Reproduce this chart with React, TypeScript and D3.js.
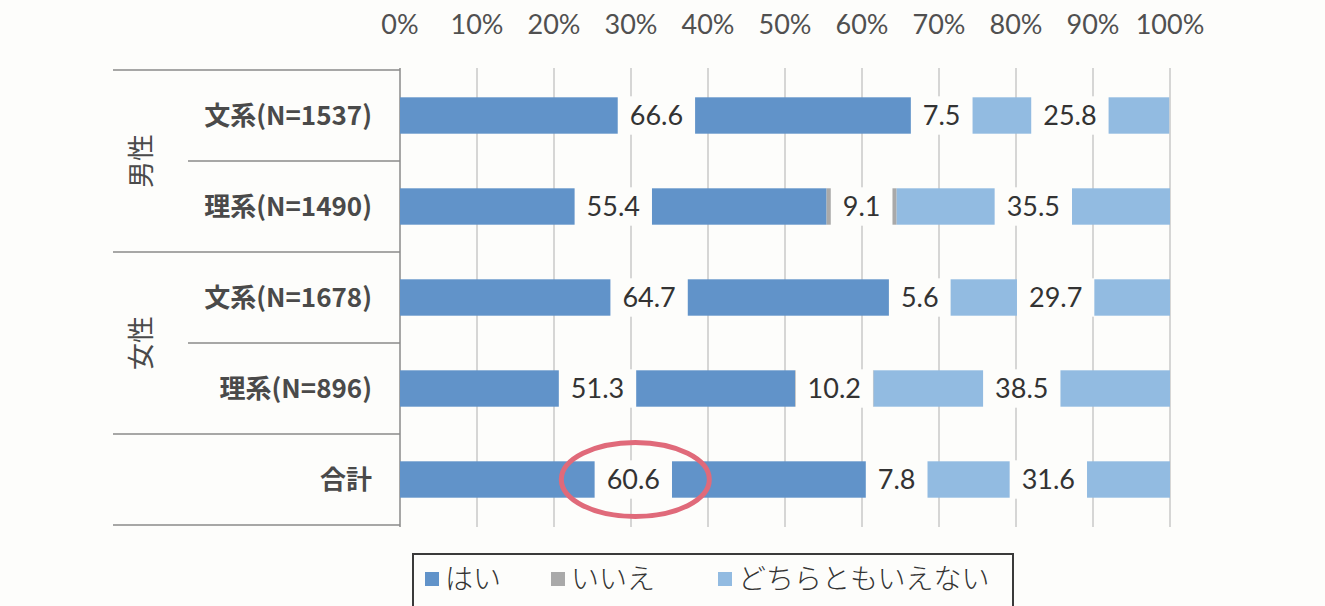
import React, { useEffect, useRef } from "react";
import * as d3 from "d3";

const categories = ["文系(N=1537)", "理系(N=1490)", "文系(N=1678)", "理系(N=896)", "合計"];
const groups = [
  { name: "男性", from: 0, to: 1 },
  { name: "女性", from: 2, to: 3 },
];
const seriesNames = ["はい", "いいえ", "どちらともいえない"];
const yesValues = [66.6, 55.4, 64.7, 51.3, 60.6];
const noValues = [7.5, 9.1, 5.6, 10.2, 7.8];
const neitherValues = [25.8, 35.5, 29.7, 38.5, 31.6];
const tickValues = [0, 10, 20, 30, 40, 50, 60, 70, 80, 90, 100];
const colors = ["#6193c9", "#a9a9a9", "#92bbe1"];
const highlightIndex = 4;

const W = 1325;
const H = 606;

export default function App() {
  const ref = useRef<SVGSVGElement>(null);

  useEffect(() => {
    const svg = d3.select(ref.current);
    svg.selectAll("*").remove();

    const x = d3.scaleLinear().domain([0, 100]).range([400, 1170]);
    const y = d3.scaleBand<number>().domain(d3.range(categories.length)).range([70, 525]).paddingInner(0.6).paddingOuter(0.3);
    const bandStep = (525 - 70) / categories.length;

    svg.append("rect").attr("width", W).attr("height", H).attr("fill", "#fdfdfb");

    // gridlines
    svg
      .append("g")
      .selectAll("line")
      .data(tickValues.slice(1))
      .join("line")
      .attr("x1", (d) => x(d))
      .attr("x2", (d) => x(d))
      .attr("y1", 68)
      .attr("y2", 527)
      .attr("stroke", "#c8c8c8")
      .attr("stroke-width", 1.5);

    // tick labels
    svg
      .append("g")
      .selectAll("text")
      .data(tickValues)
      .join("text")
      .attr("x", (d) => x(d))
      .attr("y", 34)
      .attr("text-anchor", "middle")
      .attr("font-family", "Lato, 'Open Sans', sans-serif")
      .attr("font-size", 27)
      .attr("fill", "#505050")
      .text((d) => `${d}%`);

    // axis line
    svg
      .append("line")
      .attr("x1", x(0))
      .attr("x2", x(0))
      .attr("y1", 68)
      .attr("y2", 527)
      .attr("stroke", "#8a8a8a")
      .attr("stroke-width", 1.5);

    // separators
    const boundaries = d3.range(categories.length + 1);
    const groupBoundaries = new Set([0, 2, 4, 5]);
    svg
      .append("g")
      .selectAll("line")
      .data(boundaries)
      .join("line")
      .attr("x1", (i) => (groupBoundaries.has(i) ? 113 : 188))
      .attr("x2", x(0))
      .attr("y1", (i) => 70 + i * bandStep)
      .attr("y2", (i) => 70 + i * bandStep)
      .attr("stroke", "#8a8a8a")
      .attr("stroke-width", 1.5);

    // category labels
    svg
      .append("g")
      .selectAll("text")
      .data(categories)
      .join("text")
      .attr("x", 372)
      .attr("y", (_, i) => (y(i) as number) + y.bandwidth() / 2)
      .attr("dy", "0.36em")
      .attr("text-anchor", "end")
      .attr("font-family", "'Noto Sans CJK JP', sans-serif")
      .attr("font-weight", 700)
      .attr("font-size", 26)
      .attr("fill", "#4a4a4a")
      .text((d) => d);

    // group labels
    svg
      .append("g")
      .selectAll("text")
      .data(groups)
      .join("text")
      .attr("transform", (g) => {
        const cy = 70 + ((g.from + g.to + 1) / 2) * bandStep;
        return `translate(141,${cy}) rotate(-90)`;
      })
      .attr("dy", "0.36em")
      .attr("text-anchor", "middle")
      .attr("font-family", "'Noto Sans CJK JP', sans-serif")
      .attr("font-size", 27)
      .attr("fill", "#4a4a4a")
      .text((g) => g.name);

    // stacked data
    const rows = categories.map((c, i) => ({ i, vals: [yesValues[i], noValues[i], neitherValues[i]] }));
    const segs: { i: number; s: number; x0: number; x1: number; v: number }[] = [];
    rows.forEach((r) => {
      let acc = 0;
      r.vals.forEach((v, s) => {
        segs.push({ i: r.i, s, x0: acc, x1: acc + v, v });
        acc += v;
      });
    });

    svg
      .append("g")
      .selectAll("rect")
      .data(segs)
      .join("rect")
      .attr("x", (d) => x(d.x0))
      .attr("width", (d) => x(d.x1) - x(d.x0))
      .attr("y", (d) => y(d.i) as number)
      .attr("height", y.bandwidth())
      .attr("fill", (d) => colors[d.s]);

    // labels with white boxes
    const lg = svg.append("g");
    segs.forEach((d) => {
      const cx = x((d.x0 + d.x1) / 2);
      const cy = (y(d.i) as number) + y.bandwidth() / 2;
      const g = lg.append("g");
      const rect = g.append("rect");
      const t = g
        .append("text")
        .attr("x", cx)
        .attr("y", cy)
        .attr("dy", "0.36em")
        .attr("text-anchor", "middle")
        .attr("font-family", "Lato, 'Open Sans', sans-serif")
        .attr("font-size", 27)
        .attr("fill", "#333333")
        .text(d.v.toFixed(1));
      const tw = (t.node() as SVGTextElement).getComputedTextLength();
      const bw = tw + 24;
      rect
        .attr("x", cx - bw / 2)
        .attr("y", (y(d.i) as number) - 1)
        .attr("width", bw)
        .attr("height", y.bandwidth() + 2)
        .attr("fill", "#fdfdfb");
    });

    // highlight ellipse
    const hcx = x(yesValues[highlightIndex] / 2);
    const hcy = (y(highlightIndex) as number) + y.bandwidth() / 2;
    svg
      .append("ellipse")
      .attr("cx", hcx + 2)
      .attr("cy", hcy)
      .attr("rx", 74)
      .attr("ry", 37)
      .attr("fill", "none")
      .attr("stroke", "#e06a7a")
      .attr("stroke-width", 5);

    // legend
    const leg = svg.append("g");
    leg
      .append("rect")
      .attr("x", 413)
      .attr("y", 554)
      .attr("width", 600)
      .attr("height", 60)
      .attr("fill", "#fdfdfb")
      .attr("stroke", "#3a3a3a")
      .attr("stroke-width", 2);
    const legX = [425, 551, 718];
    seriesNames.forEach((n, i) => {
      leg
        .append("rect")
        .attr("x", legX[i])
        .attr("y", 572)
        .attr("width", 14)
        .attr("height", 14)
        .attr("fill", colors[i]);
      leg
        .append("text")
        .attr("x", legX[i] + 20)
        .attr("y", 579)
        .attr("dy", "0.36em")
        .attr("font-family", "'Noto Sans CJK JP', sans-serif")
        .attr("font-weight", 300)
        .attr("font-size", 28)
        .attr("fill", "#333333")
        .text(n);
    });
  }, []);

  return (
    <div style={{ position: "fixed", left: 0, top: 0 }}>
      <svg ref={ref} width={W} height={H} style={{ display: "block" }} />
    </div>
  );
}
